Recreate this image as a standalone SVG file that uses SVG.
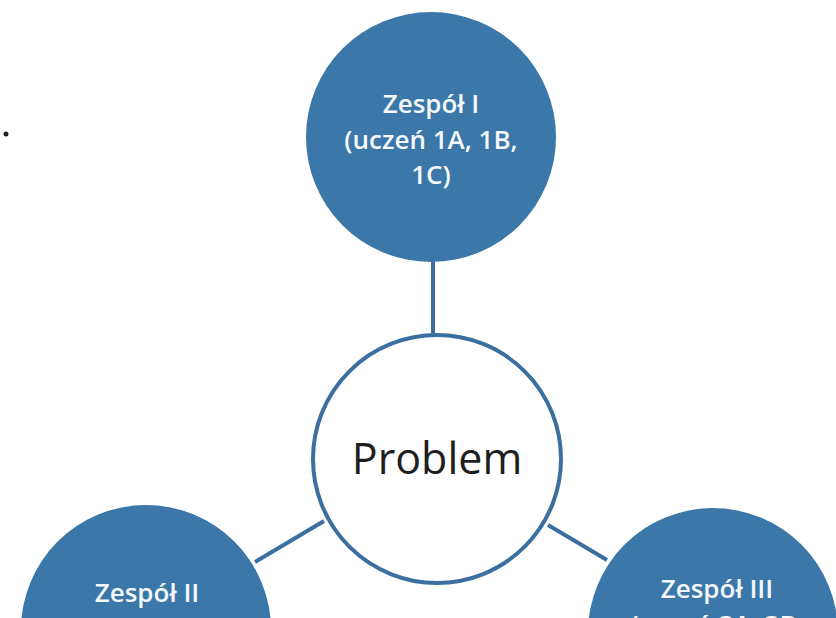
<svg xmlns="http://www.w3.org/2000/svg" width="836" height="618" viewBox="0 0 836 618">
<style>
.team{fill:#3b77a8;}
.tt{font-family:"Open Sans","Noto Sans",sans-serif;font-size:26px;font-weight:600;fill:#f4f8fb;text-anchor:middle;}
.conn{stroke:#3b6f9f;stroke-width:4;fill:none;}
</style>
<rect width="836" height="618" fill="#ffffff"/>
<circle cx="6" cy="134" r="2.5" fill="#222"/>
<g id="connectors">
<line class="conn" x1="433" y1="258" x2="433" y2="336"/>
<line class="conn" x1="324" y1="521" x2="255" y2="562"/>
<line class="conn" x1="548" y1="525" x2="607" y2="560"/>
</g>
<g id="team1">
<circle class="team" cx="431" cy="137" r="125"/>
<text class="tt" x="431" y="113">Zespół I</text>
<text class="tt" x="431" y="149">(uczeń 1A, 1B,</text>
<text class="tt" x="431" y="184">1C)</text>
</g>
<g id="problem">
<circle cx="437" cy="459" r="124" fill="#ffffff" stroke="#3b6f9f" stroke-width="4"/>
<text x="437" y="474" font-family="Open Sans, Noto Sans, sans-serif" font-size="43" fill="#1e1e1e" text-anchor="middle">Problem</text>
</g>
<g id="team2">
<circle class="team" cx="146" cy="630" r="125"/>
<text class="tt" x="147" y="602">Zespół II</text>
<text class="tt" x="147" y="638">(uczeń 2A, 2B,</text>
</g>
<g id="team3">
<circle class="team" cx="713" cy="633" r="125"/>
<text class="tt" x="717" y="598">Zespół III</text>
<text class="tt" x="717" y="634">(uczeń 3A, 3B,</text>
</g>
</svg>
